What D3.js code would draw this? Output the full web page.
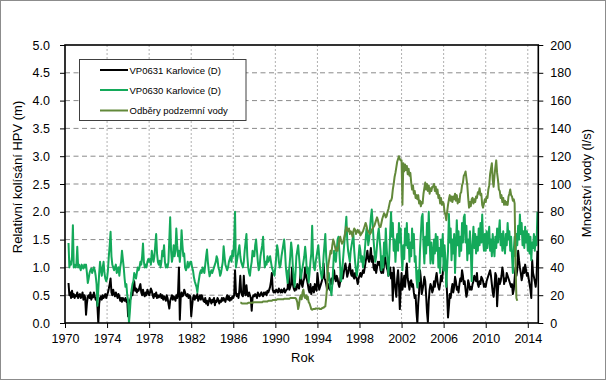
<!DOCTYPE html>
<html><head><meta charset="utf-8">
<script src="https://cdn.jsdelivr.net/npm/d3@7"></script>
<style>html,body{margin:0;padding:0;background:#fff}svg{display:block}text{font-family:"Liberation Sans",Arial,sans-serif;fill:#000}</style>
</head><body><svg id="c" width="606" height="380"></svg>
<script>
// ---------------- DATA ----------------
const seriesNames = ["VP0631 Karlovice (D)", "VP0630 Karlovice (D)", "Odběry podzemní vody"];
const xTicks = [1970,1974,1978,1982,1986,1990,1994,1998,2002,2006,2010,2014];
const leftTicks = [0,0.5,1,1.5,2,2.5,3,3.5,4,4.5,5];
const rightTicks = [0,20,40,60,80,100,120,140,160,180,200];

// VP0631 – monthly, from May 1970 (m)
const vp0631Start = 1970 + 4/12;
const vp0631 = [
 0.72,0.50,0.55,0.45,0.58,0.47,0.52,0.45,
 0.50,0.48,0.55,0.45,0.50,0.52,0.45,0.48,0.55,0.42,0.50,0.46,
 0.15,0.35,0.48,0.50,0.45,0.55,0.42,0.50,0.46,0.55,0.48,0.42,
 0.45,0.30,0.00,0.35,0.45,0.48,0.42,0.50,0.45,0.48,0.52,0.45,
 0.50,0.55,0.62,0.70,0.80,0.55,0.50,0.60,0.52,0.48,0.55,0.50,
 0.45,0.52,0.48,0.40,0.45,0.38,0.45,0.42,0.40,0.45,0.38,0.42,
 0.12,0.30,0.40,0.45,0.55,0.50,0.65,0.75,0.58,0.62,0.55,0.60,
 0.58,0.65,0.70,0.55,0.50,0.60,0.52,0.48,0.55,0.50,0.60,0.55,
 0.50,0.55,0.62,0.58,0.50,0.45,0.52,0.48,0.55,0.45,0.50,0.46,
 0.48,0.52,0.45,0.50,0.42,0.48,0.45,0.40,0.50,0.45,0.35,0.26,
 0.40,0.45,0.50,0.42,0.48,0.45,0.40,0.50,0.45,0.55,1.00,0.06,
 0.45,0.55,0.48,0.50,0.60,0.55,0.50,0.48,0.52,0.45,0.50,0.48,
 0.12,0.30,0.45,0.50,0.42,0.48,0.45,0.52,0.40,0.45,0.50,0.42,
 0.50,0.45,0.40,0.38,0.45,0.35,0.40,0.32,0.38,0.45,0.40,0.35,
 0.42,0.38,0.45,0.32,0.40,0.38,0.45,0.42,0.35,0.40,0.38,0.45,
 0.40,0.45,0.42,0.38,0.45,0.50,0.42,0.48,0.40,0.45,0.42,0.48,
 0.45,0.50,0.95,0.55,0.48,0.52,0.45,0.60,0.85,0.55,0.50,0.48,
 0.85,0.55,0.50,0.68,0.52,0.48,0.55,0.50,0.45,0.22,0.45,0.50,
 0.48,0.52,0.50,0.45,0.55,0.50,0.48,0.52,0.55,0.50,0.48,0.55,
 0.52,0.55,0.50,0.58,0.55,0.60,0.65,0.75,0.90,0.60,0.55,0.58,
 0.55,0.60,0.58,0.55,0.62,0.58,0.55,0.60,0.55,0.58,0.62,0.55,
 0.58,0.60,0.62,0.95,0.60,0.65,0.70,1.00,0.70,0.62,0.58,0.65,
 0.60,0.70,0.65,0.62,0.75,0.95,0.70,0.65,0.75,0.80,1.00,0.85,
 0.78,0.70,0.60,0.55,0.70,0.52,0.60,0.65,0.55,0.70,0.62,0.58,
 0.90,0.75,0.60,0.65,0.70,0.75,0.85,1.07,0.80,0.77,0.70,0.60,
 0.65,0.70,0.60,0.75,0.80,0.70,0.85,0.95,0.80,0.75,0.85,0.80,
 0.70,0.65,0.75,0.95,0.85,0.80,0.90,1.00,1.07,0.95,0.83,0.90,
 1.00,1.07,0.90,0.85,0.95,0.83,0.80,0.90,0.85,0.78,0.70,0.80,
 0.85,0.90,0.83,0.88,0.95,0.90,1.00,1.10,1.20,1.30,1.15,1.10,
 1.20,1.35,1.10,1.20,1.00,0.95,1.05,0.90,1.00,1.10,1.05,1.10,
 0.95,0.90,1.00,0.90,1.05,1.20,1.10,1.00,0.95,0.85,0.90,1.00,
 0.80,0.90,0.40,1.00,0.75,0.60,0.47,0.80,0.95,0.70,0.25,0.60,
 0.90,0.60,0.70,0.85,0.65,0.90,1.07,0.80,0.70,0.60,0.75,0.77,
 0.65,0.70,0.55,0.45,0.50,0.20,0.00,0.35,0.55,0.95,0.80,0.52,
 0.60,0.70,0.83,0.75,0.50,0.20,0.02,0.40,0.60,0.70,0.65,0.55,
 0.60,0.75,0.65,0.80,0.90,0.75,0.65,0.60,0.70,0.85,0.75,0.90,
 1.00,1.20,1.10,0.80,0.50,0.10,0.30,0.52,0.45,0.60,0.70,0.55,
 0.65,0.83,0.75,0.60,0.65,0.55,0.70,0.80,0.75,0.95,0.85,0.70,
 0.75,0.60,0.47,0.55,0.77,0.70,0.60,0.65,0.60,0.70,0.75,0.85,
 0.80,0.75,0.90,0.70,0.65,0.75,0.70,0.83,0.80,0.75,0.65,0.70,
 0.65,0.75,0.80,0.85,0.90,0.95,0.85,0.70,0.55,0.47,0.65,0.90,
 0.85,0.30,0.60,0.80,0.70,0.75,0.85,1.00,0.90,0.70,0.80,0.75,
 0.90,0.85,0.80,0.75,0.70,0.65,0.70,0.52,0.60,0.80,1.00,0.85,
 0.95,1.30,1.13,1.00,0.90,0.77,0.85,1.00,0.90,1.05,0.95,0.85,
 0.90,0.80,0.70,0.60,0.45,1.13,0.90,0.83,0.75,0.65,0.80,1.30
];

// VP0630 – monthly, from May 1970 (m)
const vp0630Start = 1970 + 4/12;
const vp0630 = [
 1.44,1.00,1.10,1.05,1.20,1.76,1.00,1.05,
 1.00,1.05,1.37,1.00,1.05,1.00,0.95,1.05,1.00,0.98,1.05,1.00,
 1.05,0.90,0.72,0.80,0.90,0.95,0.98,0.90,0.95,1.00,0.95,0.85,
 0.70,0.31,0.60,0.90,1.10,0.95,0.85,1.00,1.10,0.90,0.80,0.75,
 0.80,0.95,1.20,1.40,1.64,1.20,1.05,1.00,0.95,1.00,1.05,0.90,
 0.95,1.00,0.85,1.00,1.10,1.30,1.15,1.00,0.80,0.65,0.70,0.50,
 0.40,0.00,0.20,0.45,0.60,0.70,0.75,0.90,0.85,0.80,0.90,1.00,
 0.95,1.00,1.10,1.05,1.20,1.43,1.10,1.00,1.05,1.00,1.10,1.15,
 1.10,1.15,1.05,1.30,1.20,1.10,1.20,1.40,1.60,1.25,1.10,1.05,
 1.12,1.00,1.10,1.30,1.20,1.40,1.10,1.00,1.05,1.00,1.10,1.50,
 1.90,1.30,1.10,1.20,1.40,1.20,1.30,1.70,1.40,1.20,1.30,1.10,
 1.30,1.67,1.40,1.20,1.25,1.00,0.95,1.00,1.10,1.00,1.05,1.10,
 1.10,1.00,0.95,0.83,0.75,0.70,0.65,0.55,0.70,0.80,0.90,0.95,
 0.90,1.00,0.95,0.90,1.05,1.20,1.32,1.10,0.95,0.84,0.90,0.95,
 0.90,0.95,1.00,1.05,1.10,1.20,1.15,1.00,0.95,0.85,0.90,1.00,
 1.10,1.38,1.20,1.05,1.00,0.95,1.00,1.10,1.15,1.20,1.10,1.30,
 1.20,1.50,2.00,1.00,1.10,1.20,1.30,1.40,1.20,1.10,1.05,1.00,
 1.10,1.30,1.45,1.60,1.20,1.00,0.90,0.85,1.00,1.10,1.30,1.20,
 1.20,1.40,1.50,1.30,1.10,0.95,1.00,1.20,1.30,1.40,1.55,1.20,
 1.00,1.10,1.05,1.20,1.10,1.15,1.20,1.10,1.00,0.95,0.90,0.85,
 1.00,1.20,1.40,1.30,1.10,1.00,1.05,1.20,1.30,1.40,1.50,1.30,
 1.00,0.85,0.72,0.90,1.00,1.20,1.45,1.30,1.00,0.80,0.65,0.90,
 1.20,1.30,1.40,1.20,1.00,0.80,0.90,1.00,1.10,1.20,1.37,1.20,
 0.90,1.00,0.73,0.90,1.10,1.25,1.75,1.20,1.00,0.95,1.10,1.20,
 1.30,1.40,1.20,1.00,0.90,0.80,0.90,1.20,1.40,1.60,1.20,1.00,
 0.77,0.90,0.70,0.60,0.50,0.70,1.00,1.30,1.20,1.10,1.30,1.50,
 1.55,1.30,1.00,0.75,0.90,1.10,1.30,1.50,1.70,1.91,1.50,1.30,
 1.20,1.10,1.30,1.40,1.50,1.60,1.30,1.10,0.95,0.85,1.00,1.20,
 1.40,1.30,1.10,1.20,1.00,1.10,1.30,1.50,1.70,1.60,1.40,1.50,
 1.70,1.90,2.04,1.80,1.50,1.30,1.10,1.20,1.40,1.60,1.70,1.50,
 1.30,0.95,1.20,1.00,1.45,1.20,1.70,1.35,1.10,0.85,1.20,1.60,
 1.99,1.55,1.80,1.30,1.50,1.10,1.40,1.60,1.30,1.80,1.45,1.70,
 1.20,0.95,1.40,1.15,1.70,1.40,1.80,1.35,1.60,1.10,1.45,1.20,
 1.70,1.35,1.60,1.10,1.20,0.80,0.64,0.95,0.75,1.30,1.60,1.90,
 1.96,1.40,1.07,1.55,1.25,1.80,1.40,2.00,1.50,1.07,1.45,1.20,
 1.07,1.50,1.25,1.60,1.30,1.55,1.00,1.35,0.90,1.50,1.20,1.60,
 0.94,1.40,1.15,0.65,1.00,1.30,1.96,1.45,1.70,1.13,1.50,1.25,
 1.60,0.90,1.35,1.85,1.40,1.65,1.20,1.55,1.30,1.80,1.45,1.90,
 1.95,1.45,1.75,1.13,1.50,1.25,1.65,1.30,0.75,1.40,1.73,1.35,
 1.60,1.25,1.55,1.30,1.70,1.40,1.80,1.45,1.95,1.50,1.30,1.60,
 1.30,1.65,1.35,1.55,1.73,1.30,1.50,1.20,1.60,1.35,1.20,1.55,
 1.35,1.70,1.45,1.65,1.85,1.40,1.60,1.30,1.65,1.40,1.25,1.60,
 1.40,1.80,1.50,1.65,1.30,1.55,1.20,0.90,1.30,1.55,1.20,1.60,
 1.40,1.75,1.50,1.95,1.60,1.80,1.40,1.65,1.35,1.73,1.45,1.65,
 1.30,1.60,1.25,1.55,1.13,1.45,1.35,1.60,1.30,1.55,1.40,2.00
];

// Odběry podzemní vody – monthly, from Sep 1986 (l/s)
const odberyStart = 1986 + 8/12;
const odbery = [
 14.5,14.5,14,14,
 14,14,14,14,14,14.5,14.5,14.5,14.5,14.5,14.5,15,
 15,15,15,15,15,15,15,15,15,15,15.5,15.5,
 15.5,15.5,15.5,15.5,16,16,16,16,16,16.5,16.5,16.5,
 16.5,16.5,17,17,17,17,17,17,17,17,17.5,17.5,
 17.5,17.5,17.5,17.5,17.5,18,18,18,18,18,18,18,
 17,15,10,13,18,20,17,22,24,19,18,20,
 17,19,15,14,12,10,9.5,10,10,10,10.5,10.5,
 10.5,10.5,10.5,10,10,10.5,11,11,11.7,12,18,26,
 40,44,48,52,50,56,60,58,55,52,54,52,
 55,60,62,59,57,58,60,63,66,69,67,66,
 68,64,66,65,62,66,68,67,64,66,67,65,
 66,63,64,65,66,68,70,72,70,67,66,65,
 64,65,67,68,69,70,72,74,76,74,71,69,
 69,72,75,77,79,78,76,77,80,82,85,88,
 88,90,96,100,105,108,112,116,118,120,118,117,
 117,85,115,109,114,110,113,107,111,106,108,101,
 96,99,93,95,90,92,89,92,86,88,84,87,
 86,93,97,101,96,100,95,99,93,97,95,98,
 98,100,95,98,93,96,90,92,86,90,85,87,
 86,80,78,74,80,85,89,92,88,91,87,91,
 89,93,88,92,86,89,87,93,94,99,101,106,
 107,109,104,99,90,83,87,84,89,90,86,89,
 87,91,90,94,93,97,92,93,85,83,86,89,
 87,91,90,96,99,107,111,115,103,98,106,112,
 117,108,103,96,95,90,92,87,90,85,88,85,
 87,85,91,93,96,92,91,88,89,86,45,18,
 16
];

const colors = ["#000000", "#14a95a", "#62893a"];

// ---------------- CHART ----------------
const svg = d3.select("#c");
const W = 606, H = 380;
const L = 65, R = 538.3, T = 45, B = 323;

svg.append("rect").attr("x",0.5).attr("y",0.5).attr("width",W-1).attr("height",H-1)
  .attr("fill","#fff").attr("stroke","#8c8c8c").attr("stroke-width",1);

const x = d3.scaleLinear().domain([1970, 2015]).range([L, R]);
const yL = d3.scaleLinear().domain([0, 5]).range([B, T]);
const yR = d3.scaleLinear().domain([0, 200]).range([B, T]);

// gridlines
const grid = svg.append("g");
grid.selectAll("line.h").data(leftTicks.filter(d => d > 0 && d < 5)).join("line")
  .attr("x1", L).attr("x2", R).attr("y1", d => yL(d)).attr("y2", d => yL(d))
  .attr("stroke", "#8a8a8a").attr("stroke-width", 1).attr("stroke-dasharray", "5,3.5");
grid.selectAll("line.v").data(xTicks.filter(d => d > 1970)).join("line")
  .attr("x1", d => x(d)).attr("x2", d => x(d)).attr("y1", T).attr("y2", B)
  .attr("stroke", "#b0b0b0").attr("stroke-width", 1).attr("stroke-dasharray", "2,2");

// axes
const fontSize = "12.5px";
const gL = svg.append("g").attr("transform", `translate(${L},0)`)
  .call(d3.axisLeft(yL).tickValues(leftTicks).tickFormat(d3.format(".1f")).tickSize(5).tickPadding(10));
const gR = svg.append("g").attr("transform", `translate(${R},0)`)
  .call(d3.axisRight(yR).tickValues(rightTicks).tickFormat(d3.format("d")).tickSize(5).tickPadding(7));
const gB = svg.append("g").attr("transform", `translate(0,${B})`)
  .call(d3.axisBottom(x).tickValues(xTicks).tickFormat(d3.format("d")).tickSize(5).tickPadding(6));
[gL, gR, gB].forEach(g => {
  g.select(".domain").remove();
  g.selectAll(".tick line").attr("stroke", "#000");
  g.selectAll("text").attr("font-size", fontSize).attr("font-family", '"Liberation Sans", Arial, sans-serif').attr("fill", "#000");
});

// clip
svg.append("clipPath").attr("id", "clip").append("rect")
  .attr("x", L).attr("y", T).attr("width", R - L).attr("height", B - T);

function toPts(arr, start) { return arr.map((v, i) => [start + i / 12, v]); }
const lineL = d3.line().x(d => x(d[0])).y(d => yL(d[1]));
const lineR = d3.line().x(d => x(d[0])).y(d => yR(d[1]));

const plot = svg.append("g").attr("clip-path", "url(#clip)");
plot.append("path").datum(toPts(vp0631, vp0631Start)).attr("d", lineL)
  .attr("fill", "none").attr("stroke", colors[0]).attr("stroke-width", 2).attr("stroke-linejoin", "round");
plot.append("path").datum(toPts(vp0630, vp0630Start)).attr("d", lineL)
  .attr("fill", "none").attr("stroke", colors[1]).attr("stroke-width", 2).attr("stroke-linejoin", "round");
plot.append("path").datum(toPts(odbery, odberyStart)).attr("d", lineR)
  .attr("fill", "none").attr("stroke", colors[2]).attr("stroke-width", 2).attr("stroke-linejoin", "round");

// frame
svg.append("rect").attr("x", L).attr("y", T).attr("width", R - L).attr("height", B - T)
  .attr("fill", "none").attr("stroke", "#000").attr("stroke-width", 1.6);

// axis titles
svg.append("text").attr("x", (L + R) / 2 + 1).attr("y", 362).attr("text-anchor", "middle")
  .attr("font-size", "13px").text("Rok");
svg.append("text").attr("transform", "translate(22,177) rotate(-90)").attr("text-anchor", "middle")
  .attr("font-size", "13px").text("Relativní kolísání HPV (m)");
svg.append("text").attr("transform", "translate(591,183) rotate(-90)").attr("text-anchor", "middle")
  .attr("font-size", "13px").text("Množství vody (l/s)");

// legend
const lg = svg.append("g");
lg.append("rect").attr("x", 79.5).attr("y", 59.5).attr("width", 166.5).attr("height", 61)
  .attr("fill", "#fff").attr("stroke", "#404040").attr("stroke-width", 1);
const ly = [70, 90, 110.5];
seriesNames.forEach((n, i) => {
  lg.append("line").attr("x1", 100).attr("x2", 128).attr("y1", ly[i]).attr("y2", ly[i])
    .attr("stroke", colors[i]).attr("stroke-width", 2);
  lg.append("text").attr("x", 129.5).attr("y", ly[i] + 3.5).attr("font-size", "9.5px").text(n);
});
</script></body></html>
